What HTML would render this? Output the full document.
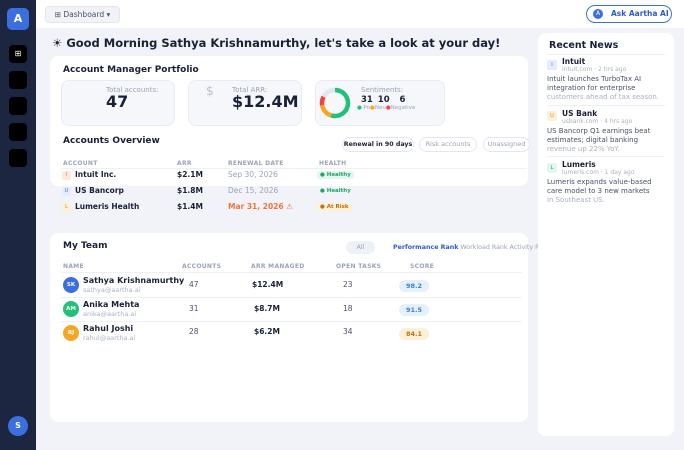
<!DOCTYPE html>
<html><head><meta charset="utf-8">
<style>
*{box-sizing:border-box;margin:0;padding:0}
body{width:684px;height:450px;overflow:hidden;background:#f1f3f8;font-family:"DejaVu Sans","Liberation Sans",sans-serif;color:#1a2036;position:relative}
.abs{position:absolute;white-space:nowrap}
.side{left:0;top:0;width:36px;height:450px;background:#1c2640}
.logo{left:7px;top:8px;width:22px;height:22px;border-radius:5px;background:#3b6fe0;color:#fff;font-weight:bold;font-size:11px;text-align:center;line-height:22px}
.nav{left:9px;width:18px;height:18px;border-radius:4px;background:#000}
.header{left:36px;top:0;width:648px;height:28px;background:#fff}
.card{background:#fff;border-radius:8px}
.stat{background:#f6f7fb;border:1px solid #e8ebf2;border-radius:8px}
.lbl{color:#9aa3b8;font-size:7px}
.th{font-size:6px;color:#9aa3b8;font-weight:bold;letter-spacing:.3px}
.bold{font-weight:bold}
.pill{border:1px solid #e2e6ee;border-radius:8px;font-size:6.5px;text-align:center;line-height:13px;color:#9aa3b8;background:#fff}
.badge{font-size:5.5px;font-weight:bold;border-radius:3px;padding:1px 3px}
.ini{width:9px;height:9px;border-radius:2px;font-size:5px;text-align:center;line-height:9px}
.av{width:16px;height:16px;border-radius:50%;color:#fff;font-size:5.5px;font-weight:bold;text-align:center;line-height:16px}
.score{width:30px;height:12px;border-radius:6px;font-size:6.5px;font-weight:bold;text-align:center;line-height:12px}
.row{font-size:7.5px}
.news-t{font-size:7.5px;font-weight:bold}
.news-s{font-size:6px;color:#aab1c2}
.news-b{font-size:7px;color:#4a5068;line-height:9px}
</style></head><body>
<div class="abs side"></div>
<div class="abs logo">A</div>
<div class="abs nav" style="top:45px;color:#fff;font-size:8px;text-align:center;line-height:18px">⊞</div>
<div class="abs nav" style="top:71px"></div>
<div class="abs nav" style="top:97px"></div>
<div class="abs nav" style="top:123px"></div>
<div class="abs nav" style="top:149px"></div>
<div class="abs av" style="left:8px;top:416px;width:20px;height:20px;line-height:20px;background:#3b6fe0;font-size:8px">S</div>

<div class="abs header"></div>
<div class="abs" style="left:45px;top:6px;width:75px;height:17px;background:#f1f3f8;border:1px solid #e2e6ee;border-radius:4px;font-size:7.5px;color:#4a5068;text-align:center;line-height:15px">⊞ Dashboard ▾</div>
<div class="abs" style="left:586px;top:5px;width:86px;height:18px;border:1.5px solid #3b6fe0;border-radius:9px;font-size:7.5px;font-weight:bold;color:#2d5bd0;line-height:15px;padding-left:24px">Ask Aartha AI</div>
<div class="abs" style="left:593px;top:9px;width:10px;height:10px;border-radius:50%;background:#3b6fe0;color:#fff;font-size:6px;text-align:center;line-height:10px">A</div>

<div class="abs bold" style="left:52px;top:36px;font-size:11.5px">☀ Good Morning Sathya Krishnamurthy, let's take a look at your day!</div>

<div class="abs card" style="left:50px;top:56px;width:478px;height:130px"></div>
<div class="abs bold" style="left:63px;top:65px;font-size:9px">Account Manager Portfolio</div>

<div class="abs stat" style="left:61px;top:80px;width:114px;height:46px"></div>
<div class="abs lbl" style="left:106px;top:86px">Total accounts:</div>
<div class="abs bold" style="left:106px;top:92px;font-size:16px">47</div>
<div class="abs stat" style="left:188px;top:80px;width:114px;height:46px"></div>
<div class="abs" style="left:206px;top:84px;font-size:12px;color:#b7bfd2">$</div>
<div class="abs lbl" style="left:232px;top:86px">Total ARR:</div>
<div class="abs bold" style="left:232px;top:92px;font-size:16px">$12.4M</div>
<div class="abs stat" style="left:315px;top:80px;width:130px;height:46px"></div>
<svg class="abs" style="left:318px;top:86px" width="34" height="34" id="donut"></svg>
<div class="abs lbl" style="left:361px;top:86px">Sentiments:</div>
<div class="abs bold" style="left:361px;top:95px;font-size:8.5px;word-spacing:2px">31 10 &nbsp;6</div>
<div class="abs" style="left:357px;top:105px;font-size:5.5px;color:#9aa3b8"><span style="color:#22c07a">●</span> Po<span style="color:#f5a623">●</span>Neu<span style="color:#ef4444">●</span>Negative</div>

<div class="abs bold" style="left:63px;top:136px;font-size:9px">Accounts Overview</div>
<div class="abs pill" style="left:342px;top:137px;width:72px;height:15px;color:#1a2036;font-weight:bold;font-size:6.3px">Renewal in 90 days</div>
<div class="abs pill" style="left:419px;top:137px;width:58px;height:15px">Risk accounts</div>
<div class="abs pill" style="left:483px;top:137px;width:47px;height:15px">Unassigned</div>

<div class="abs th" style="left:63px;top:160px">ACCOUNT</div>
<div class="abs th" style="left:177px;top:160px">ARR</div>
<div class="abs th" style="left:228px;top:160px">RENEWAL DATE</div>
<div class="abs th" style="left:319px;top:160px">HEALTH</div>
<div class="abs" style="left:61px;top:168px;width:466px;height:1px;background:#eef0f5"></div>

<div class="abs ini" style="left:62px;top:171px;background:#fde8dc;color:#e07a3f">I</div>
<div class="abs row bold" style="left:75px;top:170px">Intuit Inc.</div>
<div class="abs row bold" style="left:177px;top:170px">$2.1M</div>
<div class="abs row" style="left:228px;top:170px;color:#9aa3b8">Sep 30, 2026</div>
<div class="abs badge" style="left:317px;top:171px;background:#e3f7ee;color:#1aa56a">● Healthy</div>

<div class="abs ini" style="left:62px;top:187px;background:#e6ecfc;color:#3b6fe0">U</div>
<div class="abs row bold" style="left:75px;top:186px">US Bancorp</div>
<div class="abs row bold" style="left:177px;top:186px">$1.8M</div>
<div class="abs row" style="left:228px;top:186px;color:#9aa3b8">Dec 15, 2026</div>
<div class="abs badge" style="left:317px;top:187px;color:#1aa56a">● Healthy</div>

<div class="abs ini" style="left:62px;top:203px;background:#fdf0d8;color:#d08a1a">L</div>
<div class="abs row bold" style="left:75px;top:202px">Lumeris Health</div>
<div class="abs row bold" style="left:177px;top:202px">$1.4M</div>
<div class="abs row bold" style="left:228px;top:202px;color:#f0743a">Mar 31, 2026 ⚠</div>
<div class="abs badge" style="left:317px;top:203px;background:#fdf0d8;color:#c0700a">● At Risk</div>

<div class="abs card" style="left:50px;top:233px;width:478px;height:189px"></div>
<div class="abs bold" style="left:63px;top:241px;font-size:9px">My Team</div>
<div class="abs" style="left:346px;top:241px;width:29px;height:13px;border-radius:7px;background:#eef1f7;font-size:6.5px;color:#9aa3b8;text-align:center;line-height:13px">All</div>
<div class="abs" style="left:393px;top:244px;font-size:6.3px;color:#9aa3b8"><b style="color:#2d5bd0">Performance Rank</b> Workload Rank Activity Rank</div>

<div class="abs th" style="left:63px;top:263px">NAME</div>
<div class="abs th" style="left:182px;top:263px">ACCOUNTS</div>
<div class="abs th" style="left:251px;top:263px">ARR MANAGED</div>
<div class="abs th" style="left:336px;top:263px">OPEN TASKS</div>
<div class="abs th" style="left:410px;top:263px">SCORE</div>
<div class="abs" style="left:61px;top:272px;width:461px;height:1px;background:#eef0f5"></div>

<div class="abs av" style="left:63px;top:277px;background:#3b6fe0">SK</div>
<div class="abs bold" style="left:83px;top:276px;font-size:8px">Sathya Krishnamurthy</div>
<div class="abs" style="left:83px;top:286px;font-size:6.5px;color:#aab1c2">sathya@aartha.ai</div>
<div class="abs row" style="left:189px;top:280px;color:#4a5068">47</div>
<div class="abs row bold" style="left:252px;top:280px">$12.4M</div>
<div class="abs row" style="left:343px;top:280px;color:#4a5068">23</div>
<div class="abs score" style="left:399px;top:280px;background:#e4f1fd;color:#3a7fd0">98.2</div>
<div class="abs" style="left:61px;top:297px;width:461px;height:1px;background:#eef0f5"></div>

<div class="abs av" style="left:63px;top:301px;background:#22c07a">AM</div>
<div class="abs bold" style="left:83px;top:300px;font-size:8px">Anika Mehta</div>
<div class="abs" style="left:83px;top:310px;font-size:6.5px;color:#aab1c2">anika@aartha.ai</div>
<div class="abs row" style="left:189px;top:304px;color:#4a5068">31</div>
<div class="abs row bold" style="left:254px;top:304px">$8.7M</div>
<div class="abs row" style="left:343px;top:304px;color:#4a5068">18</div>
<div class="abs score" style="left:399px;top:304px;background:#e4f1fd;color:#3a7fd0">91.5</div>
<div class="abs" style="left:61px;top:321px;width:461px;height:1px;background:#eef0f5"></div>

<div class="abs av" style="left:63px;top:325px;background:#f5a623">RJ</div>
<div class="abs bold" style="left:83px;top:324px;font-size:8px">Rahul Joshi</div>
<div class="abs" style="left:83px;top:334px;font-size:6.5px;color:#aab1c2">rahul@aartha.ai</div>
<div class="abs row" style="left:189px;top:327px;color:#4a5068">28</div>
<div class="abs row bold" style="left:254px;top:327px">$6.2M</div>
<div class="abs row" style="left:343px;top:327px;color:#4a5068">34</div>
<div class="abs score" style="left:399px;top:328px;background:#fdf0d8;color:#c0700a">84.1</div>

<div class="abs card" style="left:538px;top:33px;width:136px;height:403px"></div>
<div class="abs bold" style="left:549px;top:40px;font-size:9.5px">Recent News</div>
<div class="abs" style="left:547px;top:54px;width:118px;height:1px;background:#eef0f5"></div>
<div class="abs ini" style="left:547px;top:60px;width:10px;height:10px;line-height:10px;background:#e6ecfc;color:#3b6fe0">I</div>
<div class="abs news-t" style="left:562px;top:57px">Intuit</div>
<div class="abs news-s" style="left:562px;top:66px">intuit.com · 2 hrs ago</div>
<div class="abs news-b" style="left:547px;top:75px">Intuit launches TurboTax AI<br>integration for enterprise<br><span style="color:#aab1c2">customers ahead of tax season.</span></div>
<div class="abs" style="left:547px;top:105px;width:118px;height:1px;background:#eef0f5"></div>
<div class="abs ini" style="left:547px;top:111px;width:10px;height:10px;line-height:10px;background:#fdf0d8;color:#d08a1a">U</div>
<div class="abs news-t" style="left:562px;top:109px">US Bank</div>
<div class="abs news-s" style="left:562px;top:118px">usbank.com · 4 hrs ago</div>
<div class="abs news-b" style="left:547px;top:127px">US Bancorp Q1 earnings beat<br>estimates; digital banking<br><span style="color:#aab1c2">revenue up 22% YoY.</span></div>
<div class="abs" style="left:547px;top:156px;width:118px;height:1px;background:#eef0f5"></div>
<div class="abs ini" style="left:547px;top:163px;width:10px;height:10px;line-height:10px;background:#e3f7ee;color:#1aa56a">L</div>
<div class="abs news-t" style="left:562px;top:160px">Lumeris</div>
<div class="abs news-s" style="left:562px;top:169px">lumeris.com · 1 day ago</div>
<div class="abs news-b" style="left:547px;top:178px">Lumeris expands value-based<br>care model to 3 new markets<br><span style="color:#aab1c2">in Southeast US.</span></div>

<script>
const sentimentLabels = ["Positive","Neutral","Negative"];
const sentimentValues = [31,10,6];
const sentimentColors = ["#22c07a","#f5a623","#ef4444"];
const sentimentScale = 57;
(function(){
  const svg=document.getElementById('donut');
  const ns='http://www.w3.org/2000/svg', cx=17, cy=17, r=13;
  const C=2*Math.PI*r;
  const bg=document.createElementNS(ns,'circle');
  bg.setAttribute('cx',cx);bg.setAttribute('cy',cy);bg.setAttribute('r',r);
  bg.setAttribute('fill','none');bg.setAttribute('stroke','#e3e6ef');bg.setAttribute('stroke-width',4.5);
  
  
  svg.appendChild(bg);
  let acc=0;
  sentimentValues.forEach((v,i)=>{
    const len=v/sentimentScale*C;
    const c=document.createElementNS(ns,'circle');
    c.setAttribute('cx',cx);c.setAttribute('cy',cy);c.setAttribute('r',r);
    c.setAttribute('fill','none');c.setAttribute('stroke',sentimentColors[i]);c.setAttribute('stroke-width',4.5);
    c.setAttribute('stroke-dasharray',len+' '+(C-len));
    c.setAttribute('stroke-dashoffset',-acc);
    c.setAttribute('transform','rotate(-90 '+cx+' '+cy+')');
    
    
    svg.appendChild(c);
    acc+=len;
  });
})();
</script>
</body></html>
